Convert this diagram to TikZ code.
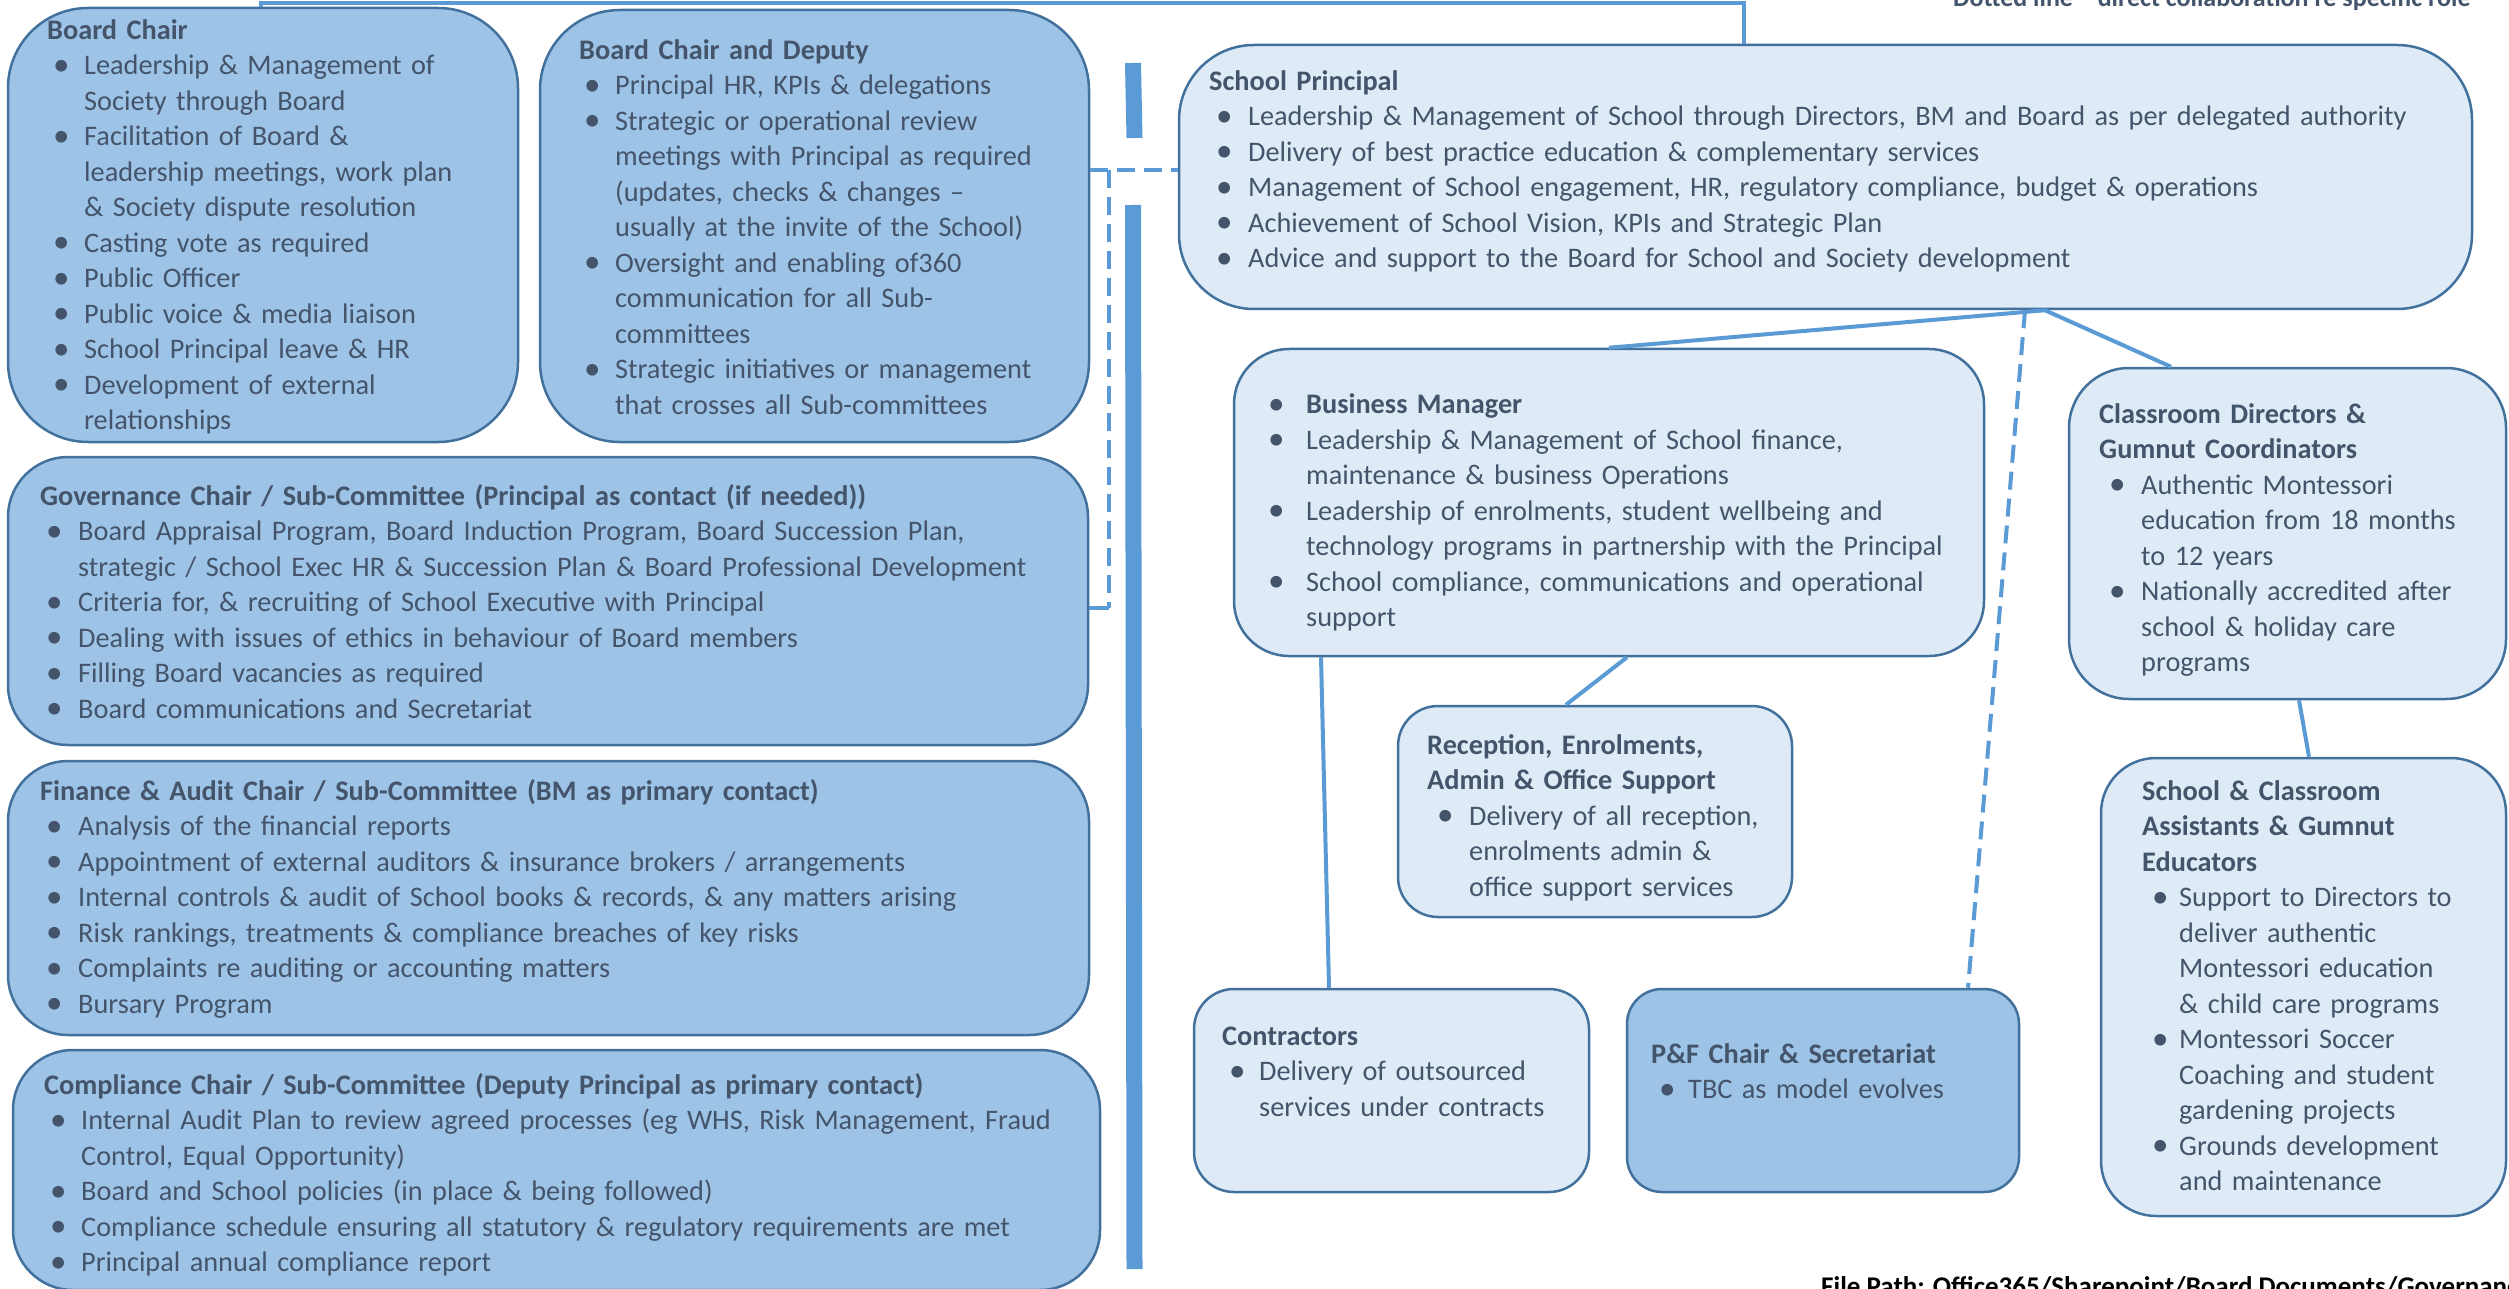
\documentclass[tikz,border=0pt]{standalone}
\usepackage{fontspec}
\setmainfont{Carlito}
\usetikzlibrary{fit}
\definecolor{darkc}{HTML}{9DC3E6}
\definecolor{lightc}{HTML}{DEEBF7}
\definecolor{bordc}{HTML}{41719C}
\definecolor{textc}{HTML}{44546A}
\definecolor{connc}{HTML}{5B9BD5}
\newlength{\bind}\newlength{\tind}
\newcommand{\bi}[1]{\par\hangindent=\tind\hangafter=1\noindent\hbox to \tind{\hskip\bind\raisebox{-0.5pt}{\fontsize{33}{35.5}\selectfont\textbullet}\hss}#1}
\newcommand{\ind}[2]{\raggedright\def\\{\unskip\break}\setlength{\bind}{#1pt}\setlength{\tind}{#2pt}\parindent=0pt\noindent}
\tikzset{
  orgbox/.style={draw=bordc, line width=2.5pt, rounded corners=#1, inner sep=0pt},
  dark/.style={fill=darkc},
  light/.style={fill=lightc},
  txt/.style={anchor=north west, inner sep=0pt, text width=2000pt,
    font=\fontsize{28.3}{35.5}\selectfont, text=textc},
  conn/.style={draw=connc, line width=4pt},
  dline/.style={draw=connc, line width=4pt, dash pattern=on 18pt off 9pt},
  bar/.style={draw=connc, line width=16pt},
  note/.style={inner sep=0pt, font=\bfseries}
}
\begin{document}
\begin{tikzpicture}[x=1pt,y=-1pt]
\useasboundingbox (0,0) rectangle (2509,1289);
% boxes
\node[orgbox=80, dark, fit={(8,8) (518,442)}] (bc) {};
\node[orgbox=80, dark, fit={(540,10) (1089,442)}] (bcd) {};
\node[orgbox=75, light, fit={(1179,45) (2472,309)}] (sp) {};
\node[orgbox=60, dark, fit={(8,457) (1088,745)}] (gov) {};
\node[orgbox=60, dark, fit={(8,761) (1089,1035)}] (fin) {};
\node[orgbox=60, dark, fit={(13,1050) (1100,1290)}] (comp) {};
\node[orgbox=55, light, fit={(1234,349) (1984,656)}] (bm) {};
\node[orgbox=60, light, fit={(2069,368) (2506,699)}] (cd) {};
\node[orgbox=40, light, fit={(1398,706) (1792,917)}] (rec) {};
\node[orgbox=55, light, fit={(2101,758) (2506,1216)}] (asst) {};
\node[orgbox=40, light, fit={(1194,989) (1589,1192)}] (con) {};
\node[orgbox=35, dark, fit={(1627,989) (2019,1192)}] (pf) {};
% texts
\node[txt] (bct) at (47,14) {\ind{6}{37}\strut\textbf{Board Chair}
\bi{Leadership \& Management of\\Society through Board}
\bi{Facilitation of Board \&\\leadership meetings, work plan\\\& Society dispute resolution}
\bi{Casting vote as required}
\bi{Public Officer}
\bi{Public voice \& media liaison}
\bi{School Principal leave \& HR}
\bi{Development of external\\relationships}\par};
\node[txt] (bcdt) at (579,34) {\ind{5}{36}\strut\textbf{Board Chair and Deputy}
\bi{Principal HR, KPIs \& delegations}
\bi{Strategic or operational review\\meetings with Principal as required\\(updates, checks \& changes –\\usually at the invite of the School)}
\bi{Oversight and enabling of360\\communication for all Sub-\\committees}
\bi{Strategic initiatives or management\\that crosses all Sub-committees}\par};
\node[txt] (spt) at (1209,65) {\ind{7}{39}\strut\textbf{School Principal}
\bi{Leadership \& Management of School through Directors, BM and Board as per delegated authority}
\bi{Delivery of best practice education \& complementary services}
\bi{Management of School engagement, HR, regulatory compliance, budget \& operations}
\bi{Achievement of School Vision, KPIs and Strategic Plan}
\bi{Advice and support to the Board for School and Society development}\par};
\node[txt] (govt) at (40,480) {\ind{6}{38}\strut\textbf{Governance Chair / Sub-Committee (Principal as contact (if needed))}
\bi{Board Appraisal Program, Board Induction Program, Board Succession Plan,\\strategic / School Exec HR \& Succession Plan \& Board Professional Development}
\bi{Criteria for, \& recruiting of School Executive with Principal}
\bi{Dealing with issues of ethics in behaviour of Board members}
\bi{Filling Board vacancies as required}
\bi{Board communications and Secretariat}\par};
\node[txt] (fint) at (40,775) {\ind{6}{38}\strut\textbf{Finance \& Audit Chair / Sub-Committee (BM as primary contact)}
\bi{Analysis of the financial reports}
\bi{Appointment of external auditors \& insurance brokers / arrangements}
\bi{Internal controls \& audit of School books \& records, \& any matters arising}
\bi{Risk rankings, treatments \& compliance breaches of key risks}
\bi{Complaints re auditing or accounting matters}
\bi{Bursary Program}\par};
\node[txt] (compt) at (44,1069) {\ind{6}{37}\strut\textbf{Compliance Chair / Sub-Committee (Deputy Principal as primary contact)}
\bi{Internal Audit Plan to review agreed processes (eg WHS, Risk Management, Fraud\\Control, Equal Opportunity)}
\bi{Board and School policies (in place \& being followed)}
\bi{Compliance schedule ensuring all statutory \& regulatory requirements are met}
\bi{Principal annual compliance report}\par};
\node[txt] (bmt) at (1262,378) {\ind{6}{44}\bi{\strut\textbf{Business Manager}}
\bi{Leadership \& Management of School finance,\\maintenance \& business Operations}
\bi{Leadership of enrolments, student wellbeing and\\technology programs in partnership with the Principal}
\bi{School compliance, communications and operational\\support}\par};
\node[txt] (cdt) at (2099,398) {\ind{10}{42}\strut\textbf{Classroom Directors \&\\Gumnut Coordinators}
\bi{Authentic Montessori\\education from 18 months\\to 12 years}
\bi{Nationally accredited after\\school \& holiday care\\programs}\par};
\node[txt] (rect) at (1427,729) {\ind{10}{42}\strut\textbf{Reception, Enrolments,\\Admin \& Office Support}
\bi{Delivery of all reception,\\enrolments admin \&\\office support services}\par};
\node[txt] (asstt) at (2142,775) {\ind{10}{37}\strut\textbf{School \& Classroom\\Assistants \& Gumnut\\Educators}
\bi{Support to Directors to\\deliver authentic\\Montessori education\\\& child care programs}
\bi{Montessori Soccer\\Coaching and student\\gardening projects}
\bi{Grounds development\\and maintenance}\par};
\node[txt] (cont) at (1222,1020) {\ind{7}{37}\strut\textbf{Contractors}
\bi{Delivery of outsourced\\services under contracts}\par};
\node[txt] (pft) at (1651,1038) {\ind{8}{37}\strut\textbf{P\&F Chair \& Secretariat}
\bi{TBC as model evolves}\par};
% notes
\node[note, anchor=base west, text=textc, font=\fontsize{26}{30}\selectfont\bfseries] (dotnote) at (1953,7) {Dotted line – direct collaboration re specific role};
\node[note, anchor=base west, text=black, font=\fontsize{27}{31}\selectfont\bfseries] (fpath) at (1821,1295) {File Path: Office365/Sharepoint/Board Documents/Governance};
% thick bars
\draw[bar] (1133,63) -- (1134.5,138);
\draw[bar] (1133,205) -- (1134.5,1269);
% connectors
\coordinate (t1) at (261,3);
\coordinate (t2) at (1744,3);
\draw[conn, line width=3.5pt] (t1 |- bc.north) -- (t1) -- (t2) -- (t2 |- sp.north);
\coordinate (dy) at (0,170);
\draw[dline] (bcd.east |- dy) -- (sp.west |- dy);
\coordinate (dv1) at (1109,170);
\coordinate (dv2) at (1109,608);
\draw[dline] (dv1) -- (dv2);
\draw[conn] (dv2) -- (dv2 -| gov.east);
\coordinate (jx) at (2045,0);
\coordinate (cdx) at (2171,0);
\draw[conn] (sp.south -| jx) -- (bm.north);
\draw[conn] (sp.south -| jx) -- (cd.north -| cdx);
\coordinate (pfx1) at (2025,0);
\coordinate (pfx2) at (1968,0);
\draw[dline] (sp.south -| pfx1) -- (pf.north -| pfx2);
\coordinate (rx1) at (1627,0);
\coordinate (rx2) at (1566,0);
\draw[conn] (bm.south -| rx1) -- (rec.north -| rx2);
\coordinate (cx1) at (1321,0);
\coordinate (cx2) at (1329,0);
\draw[conn] (bm.south -| cx1) -- (con.north -| cx2);
\coordinate (ax1) at (2299,0);
\coordinate (ax2) at (2309,0);
\draw[conn] (cd.south -| ax1) -- (asst.north -| ax2);
\end{tikzpicture}
\end{document}
